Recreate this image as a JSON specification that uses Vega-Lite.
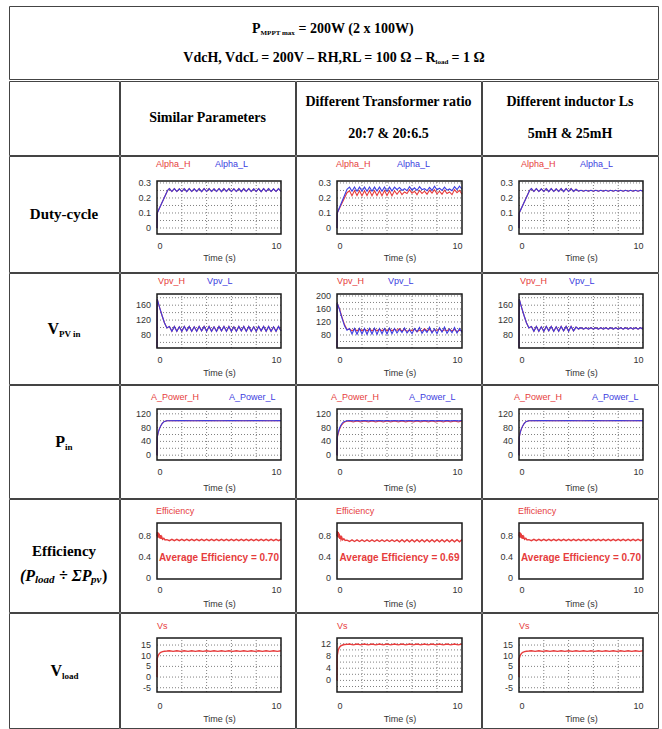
{
"$schema":"https://vega.github.io/schema/vega-lite/v6.json",
"background":"white",
"padding":{"left":8,"top":5,"right":0,"bottom":0},
"spacing":0,
"bounds":"full",
"resolve":{"scale":{"color":"independent"},"legend":{"color":"independent"}},
"config":{
 "view":{"stroke":"#444444","strokeWidth":1},
 "font":"Liberation Sans",
 "axis":{"domain":false,"ticks":false,"grid":false,"labelFont":"Liberation Sans","labelFontSize":9,"labelColor":"#333333","labelPadding":6,"titleFont":"Liberation Sans","titleFontSize":9,"titleFontWeight":"normal","titleColor":"#333333"},
 "axisX":{"labelFlush":true},
 "legend":{"orient":"none","direction":"horizontal","symbolOpacity":0,"symbolSize":0,"symbolStrokeWidth":0,"labelOffset":0,"labelFontSize":9,"labelFont":"Liberation Sans","padding":0},
 "rule":{"strokeDash":[1,2],"color":"#808080","strokeWidth":1},
 "line":{"strokeWidth":1.1},
 "text":{"font":"Liberation Serif","fontWeight":"bold","color":"black"}
},
"datasets":{
"r1c1":[{"t":0,"H":0,"L":0},{"t":0.02,"H":0.1,"L":0.1},{"t":0.85,"H":0.25,"L":0.25},{"t":1,"H":0.262,"L":0.262},{"t":1.2,"H":0.243,"L":0.243},{"t":1.4,"H":0.262,"L":0.262},{"t":1.6,"H":0.243,"L":0.243},{"t":1.8,"H":0.261,"L":0.261},{"t":2,"H":0.243,"L":0.243},{"t":2.2,"H":0.262,"L":0.262},{"t":2.4,"H":0.242,"L":0.242},{"t":2.6,"H":0.262,"L":0.262},{"t":2.8,"H":0.243,"L":0.243},{"t":3,"H":0.261,"L":0.261},{"t":3.2,"H":0.243,"L":0.243},{"t":3.4,"H":0.262,"L":0.262},{"t":3.6,"H":0.242,"L":0.242},{"t":3.8,"H":0.262,"L":0.262},{"t":4,"H":0.243,"L":0.243},{"t":4.2,"H":0.262,"L":0.262},{"t":4.4,"H":0.243,"L":0.243},{"t":4.6,"H":0.261,"L":0.261},{"t":4.8,"H":0.243,"L":0.243},{"t":5,"H":0.262,"L":0.262},{"t":5.2,"H":0.242,"L":0.242},{"t":5.4,"H":0.262,"L":0.262},{"t":5.6,"H":0.243,"L":0.243},{"t":5.8,"H":0.262,"L":0.262},{"t":6,"H":0.243,"L":0.243},{"t":6.2,"H":0.261,"L":0.261},{"t":6.4,"H":0.243,"L":0.243},{"t":6.6,"H":0.262,"L":0.262},{"t":6.8,"H":0.242,"L":0.242},{"t":7,"H":0.262,"L":0.262},{"t":7.2,"H":0.243,"L":0.243},{"t":7.4,"H":0.262,"L":0.262},{"t":7.6,"H":0.243,"L":0.243},{"t":7.8,"H":0.261,"L":0.261},{"t":8,"H":0.243,"L":0.243},{"t":8.2,"H":0.262,"L":0.262},{"t":8.4,"H":0.242,"L":0.242},{"t":8.6,"H":0.262,"L":0.262},{"t":8.8,"H":0.243,"L":0.243},{"t":9,"H":0.262,"L":0.262},{"t":9.2,"H":0.243,"L":0.243},{"t":9.4,"H":0.261,"L":0.261},{"t":9.6,"H":0.243,"L":0.243},{"t":9.8,"H":0.262,"L":0.262},{"t":10,"H":0.243,"L":0.243}],
"r1c2":[{"t":0,"H":0,"L":0},{"t":0.02,"H":0.1,"L":0.1},{"t":0.8,"H":0.235,"L":0.258},{"t":1,"H":0.248,"L":0.272},{"t":1.2,"H":0.215,"L":0.245},{"t":1.4,"H":0.249,"L":0.273},{"t":1.6,"H":0.216,"L":0.245},{"t":1.8,"H":0.248,"L":0.272},{"t":2,"H":0.215,"L":0.246},{"t":2.2,"H":0.248,"L":0.272},{"t":2.4,"H":0.216,"L":0.245},{"t":2.6,"H":0.249,"L":0.273},{"t":2.8,"H":0.215,"L":0.245},{"t":3,"H":0.248,"L":0.272},{"t":3.2,"H":0.216,"L":0.246},{"t":3.4,"H":0.248,"L":0.272},{"t":3.6,"H":0.215,"L":0.245},{"t":3.8,"H":0.249,"L":0.273},{"t":4,"H":0.216,"L":0.245},{"t":4.2,"H":0.248,"L":0.272},{"t":4.4,"H":0.215,"L":0.246},{"t":4.6,"H":0.248,"L":0.272},{"t":4.8,"H":0.225,"L":0.255},{"t":5,"H":0.248,"L":0.27},{"t":5.2,"H":0.222,"L":0.25},{"t":5.4,"H":0.24,"L":0.262},{"t":5.6,"H":0.23,"L":0.248},{"t":5.8,"H":0.255,"L":0.275},{"t":6,"H":0.232,"L":0.252},{"t":6.2,"H":0.245,"L":0.268},{"t":6.4,"H":0.222,"L":0.25},{"t":6.6,"H":0.25,"L":0.275},{"t":6.8,"H":0.23,"L":0.255},{"t":7,"H":0.245,"L":0.262},{"t":7.2,"H":0.225,"L":0.248},{"t":7.4,"H":0.252,"L":0.27},{"t":7.6,"H":0.232,"L":0.25},{"t":7.8,"H":0.255,"L":0.278},{"t":8,"H":0.228,"L":0.255},{"t":8.2,"H":0.245,"L":0.265},{"t":8.4,"H":0.225,"L":0.25},{"t":8.6,"H":0.252,"L":0.272},{"t":8.8,"H":0.23,"L":0.252},{"t":9,"H":0.24,"L":0.26},{"t":9.2,"H":0.222,"L":0.248},{"t":9.4,"H":0.255,"L":0.275},{"t":9.6,"H":0.235,"L":0.255},{"t":9.8,"H":0.25,"L":0.278},{"t":10,"H":0.225,"L":0.258}],
"r1c3":[{"t":0,"H":0,"L":0},{"t":0.02,"H":0.1,"L":0.1},{"t":0.85,"H":0.25,"L":0.25},{"t":1,"H":0.262,"L":0.262},{"t":1.2,"H":0.243,"L":0.243},{"t":1.4,"H":0.262,"L":0.262},{"t":1.6,"H":0.243,"L":0.243},{"t":1.8,"H":0.261,"L":0.261},{"t":2,"H":0.243,"L":0.243},{"t":2.2,"H":0.262,"L":0.262},{"t":2.4,"H":0.242,"L":0.242},{"t":2.6,"H":0.262,"L":0.262},{"t":2.8,"H":0.243,"L":0.243},{"t":3,"H":0.261,"L":0.261},{"t":3.2,"H":0.243,"L":0.243},{"t":3.4,"H":0.262,"L":0.262},{"t":3.6,"H":0.242,"L":0.242},{"t":3.8,"H":0.262,"L":0.262},{"t":4,"H":0.243,"L":0.243},{"t":4.2,"H":0.262,"L":0.262},{"t":4.4,"H":0.243,"L":0.243},{"t":4.6,"H":0.258,"L":0.258},{"t":4.8,"H":0.245,"L":0.245},{"t":5,"H":0.251,"L":0.251},{"t":5.2,"H":0.245,"L":0.245},{"t":5.4,"H":0.251,"L":0.251},{"t":5.6,"H":0.245,"L":0.245},{"t":5.8,"H":0.251,"L":0.251},{"t":6,"H":0.245,"L":0.245},{"t":6.2,"H":0.251,"L":0.251},{"t":6.4,"H":0.245,"L":0.245},{"t":6.6,"H":0.251,"L":0.251},{"t":6.8,"H":0.245,"L":0.245},{"t":7,"H":0.251,"L":0.251},{"t":7.2,"H":0.245,"L":0.245},{"t":7.4,"H":0.251,"L":0.251},{"t":7.6,"H":0.245,"L":0.245},{"t":7.8,"H":0.251,"L":0.251},{"t":8,"H":0.245,"L":0.245},{"t":8.2,"H":0.251,"L":0.251},{"t":8.4,"H":0.245,"L":0.245},{"t":8.6,"H":0.251,"L":0.251},{"t":8.8,"H":0.245,"L":0.245},{"t":9,"H":0.251,"L":0.251},{"t":9.2,"H":0.245,"L":0.245},{"t":9.4,"H":0.251,"L":0.251},{"t":9.6,"H":0.245,"L":0.245},{"t":9.8,"H":0.251,"L":0.251},{"t":10,"H":0.245,"L":0.245}],
"r2c1":[{"t":0,"H":46,"L":46},{"t":0.02,"H":176,"L":176},{"t":0.2,"H":155,"L":155},{"t":0.4,"H":133,"L":133},{"t":0.6,"H":113,"L":113},{"t":0.8,"H":99,"L":99},{"t":1,"H":103,"L":103},{"t":1.2,"H":90,"L":90},{"t":1.4,"H":103,"L":103},{"t":1.6,"H":90,"L":90},{"t":1.8,"H":102,"L":102},{"t":2,"H":90,"L":90},{"t":2.2,"H":103,"L":103},{"t":2.4,"H":91,"L":91},{"t":2.6,"H":103,"L":103},{"t":2.8,"H":90,"L":90},{"t":3,"H":102,"L":102},{"t":3.2,"H":90,"L":90},{"t":3.4,"H":103,"L":103},{"t":3.6,"H":91,"L":91},{"t":3.8,"H":103,"L":103},{"t":4,"H":90,"L":90},{"t":4.2,"H":103,"L":103},{"t":4.4,"H":90,"L":90},{"t":4.6,"H":102,"L":102},{"t":4.8,"H":90,"L":90},{"t":5,"H":103,"L":103},{"t":5.2,"H":91,"L":91},{"t":5.4,"H":103,"L":103},{"t":5.6,"H":90,"L":90},{"t":5.8,"H":103,"L":103},{"t":6,"H":90,"L":90},{"t":6.2,"H":102,"L":102},{"t":6.4,"H":90,"L":90},{"t":6.6,"H":103,"L":103},{"t":6.8,"H":91,"L":91},{"t":7,"H":103,"L":103},{"t":7.2,"H":90,"L":90},{"t":7.4,"H":103,"L":103},{"t":7.6,"H":90,"L":90},{"t":7.8,"H":102,"L":102},{"t":8,"H":90,"L":90},{"t":8.2,"H":103,"L":103},{"t":8.4,"H":91,"L":91},{"t":8.6,"H":103,"L":103},{"t":8.8,"H":90,"L":90},{"t":9,"H":103,"L":103},{"t":9.2,"H":90,"L":90},{"t":9.4,"H":102,"L":102},{"t":9.6,"H":90,"L":90},{"t":9.8,"H":103,"L":103},{"t":10,"H":91,"L":91}],
"r2c2":[{"t":0,"H":41,"L":41},{"t":0.02,"H":178,"L":178},{"t":0.2,"H":160,"L":158},{"t":0.4,"H":135,"L":132},{"t":0.6,"H":112,"L":108},{"t":0.8,"H":97,"L":95},{"t":1,"H":98,"L":100},{"t":1.2,"H":93,"L":83},{"t":1.4,"H":98,"L":100},{"t":1.6,"H":93,"L":82},{"t":1.8,"H":98,"L":100},{"t":2,"H":93,"L":83},{"t":2.2,"H":98,"L":100},{"t":2.4,"H":93,"L":82},{"t":2.6,"H":98,"L":100},{"t":2.8,"H":93,"L":83},{"t":3,"H":98,"L":101},{"t":3.2,"H":93,"L":82},{"t":3.4,"H":98,"L":100},{"t":3.6,"H":93,"L":84},{"t":3.8,"H":98,"L":100},{"t":4,"H":93,"L":83},{"t":4.2,"H":98,"L":101},{"t":4.4,"H":93,"L":84},{"t":4.6,"H":98,"L":100},{"t":4.8,"H":94,"L":86},{"t":5,"H":99,"L":98},{"t":5.2,"H":92,"L":88},{"t":5.4,"H":97,"L":102},{"t":5.6,"H":91,"L":86},{"t":5.8,"H":96,"L":96},{"t":6,"H":93,"L":84},{"t":6.2,"H":98,"L":100},{"t":6.4,"H":90,"L":90},{"t":6.6,"H":95,"L":103},{"t":6.8,"H":92,"L":85},{"t":7,"H":99,"L":97},{"t":7.2,"H":93,"L":88},{"t":7.4,"H":97,"L":104},{"t":7.6,"H":90,"L":86},{"t":7.8,"H":96,"L":99},{"t":8,"H":94,"L":84},{"t":8.2,"H":99,"L":102},{"t":8.4,"H":91,"L":89},{"t":8.6,"H":96,"L":104},{"t":8.8,"H":93,"L":85},{"t":9,"H":98,"L":98},{"t":9.2,"H":92,"L":87},{"t":9.4,"H":97,"L":103},{"t":9.6,"H":90,"L":86},{"t":9.8,"H":95,"L":100},{"t":10,"H":93,"L":88}],
"r2c3":[{"t":0,"H":46,"L":46},{"t":0.02,"H":176,"L":176},{"t":0.2,"H":155,"L":155},{"t":0.4,"H":133,"L":133},{"t":0.6,"H":113,"L":113},{"t":0.8,"H":99,"L":99},{"t":1,"H":103,"L":103},{"t":1.2,"H":90,"L":90},{"t":1.4,"H":103,"L":103},{"t":1.6,"H":90,"L":90},{"t":1.8,"H":102,"L":102},{"t":2,"H":90,"L":90},{"t":2.2,"H":103,"L":103},{"t":2.4,"H":91,"L":91},{"t":2.6,"H":103,"L":103},{"t":2.8,"H":90,"L":90},{"t":3,"H":102,"L":102},{"t":3.2,"H":90,"L":90},{"t":3.4,"H":103,"L":103},{"t":3.6,"H":91,"L":91},{"t":3.8,"H":103,"L":103},{"t":4,"H":90,"L":90},{"t":4.2,"H":103,"L":103},{"t":4.4,"H":91,"L":91},{"t":4.6,"H":101,"L":101},{"t":4.8,"H":96,"L":96},{"t":5,"H":99.5,"L":99.5},{"t":5.2,"H":95.5,"L":95.5},{"t":5.4,"H":99.5,"L":99.5},{"t":5.6,"H":95.5,"L":95.5},{"t":5.8,"H":99.5,"L":99.5},{"t":6,"H":95.5,"L":95.5},{"t":6.2,"H":99.5,"L":99.5},{"t":6.4,"H":95.5,"L":95.5},{"t":6.6,"H":99.5,"L":99.5},{"t":6.8,"H":95.5,"L":95.5},{"t":7,"H":99.5,"L":99.5},{"t":7.2,"H":95.5,"L":95.5},{"t":7.4,"H":99.5,"L":99.5},{"t":7.6,"H":95.5,"L":95.5},{"t":7.8,"H":99.5,"L":99.5},{"t":8,"H":95.5,"L":95.5},{"t":8.2,"H":99.5,"L":99.5},{"t":8.4,"H":95.5,"L":95.5},{"t":8.6,"H":99.5,"L":99.5},{"t":8.8,"H":95.5,"L":95.5},{"t":9,"H":99.5,"L":99.5},{"t":9.2,"H":95.5,"L":95.5},{"t":9.4,"H":99.5,"L":99.5},{"t":9.6,"H":95.5,"L":95.5},{"t":9.8,"H":99.5,"L":99.5},{"t":10,"H":95.5,"L":95.5}],
"r3c1":[{"t":0,"H":0,"L":0},{"t":0.02,"H":52,"L":52},{"t":0.1,"H":66,"L":66},{"t":0.2,"H":77,"L":77},{"t":0.3,"H":85,"L":85},{"t":0.4,"H":91,"L":91},{"t":0.5,"H":95,"L":95},{"t":0.6,"H":98,"L":98},{"t":0.8,"H":100,"L":100},{"t":2,"H":100.4,"L":100.4},{"t":3,"H":99.8,"L":99.8},{"t":4,"H":100.3,"L":100.3},{"t":5,"H":99.9,"L":99.9},{"t":6,"H":100.3,"L":100.3},{"t":7,"H":99.8,"L":99.8},{"t":8,"H":100.3,"L":100.3},{"t":9,"H":99.9,"L":99.9},{"t":10,"H":100.2,"L":100.2}],
"r3c2":[{"t":0,"H":0,"L":0},{"t":0.02,"H":50,"L":53},{"t":0.1,"H":63,"L":67},{"t":0.2,"H":75,"L":78},{"t":0.3,"H":83,"L":86},{"t":0.4,"H":89,"L":92},{"t":0.5,"H":93,"L":96},{"t":0.6,"H":96,"L":98},{"t":0.8,"H":98.5,"L":100},{"t":1,"H":99.5,"L":100.5},{"t":1.3,"H":96.5,"L":99.5},{"t":1.6,"H":99.5,"L":100.5},{"t":1.9,"H":96.5,"L":99.5},{"t":2.2,"H":99.5,"L":100.5},{"t":2.5,"H":96.5,"L":99.5},{"t":2.8,"H":99.5,"L":100.5},{"t":3.1,"H":96.5,"L":99.5},{"t":3.4,"H":99.5,"L":100.5},{"t":3.7,"H":96.5,"L":99.5},{"t":4,"H":99.5,"L":100.5},{"t":4.3,"H":96.5,"L":99.5},{"t":4.6,"H":99.5,"L":100.5},{"t":4.9,"H":96.5,"L":99.5},{"t":5.2,"H":99.5,"L":100.5},{"t":5.5,"H":96.5,"L":99.5},{"t":5.8,"H":99.5,"L":100.5},{"t":6.1,"H":96.5,"L":99.5},{"t":6.4,"H":99.5,"L":100.5},{"t":6.7,"H":96.5,"L":99.5},{"t":7,"H":99.5,"L":100.5},{"t":7.3,"H":96.5,"L":99.5},{"t":7.6,"H":99.5,"L":100.5},{"t":7.9,"H":96.5,"L":99.5},{"t":8.2,"H":99.5,"L":100.5},{"t":8.5,"H":96.5,"L":99.5},{"t":8.8,"H":99.5,"L":100.5},{"t":9.1,"H":96.5,"L":99.5},{"t":9.4,"H":99.5,"L":100.5},{"t":9.7,"H":96.5,"L":99.5},{"t":10,"H":99.5,"L":100.5}],
"r4c1":[{"t":0,"v":0.8},{"t":0.03,"v":0.88},{"t":0.06,"v":0.77},{"t":0.1,"v":0.87},{"t":0.14,"v":0.77},{"t":0.18,"v":0.85},{"t":0.22,"v":0.76},{"t":0.27,"v":0.82},{"t":0.32,"v":0.75},{"t":0.38,"v":0.79},{"t":0.45,"v":0.74},{"t":0.55,"v":0.76},{"t":0.65,"v":0.73},{"t":0.8,"v":0.735},{"t":1,"v":0.715},{"t":1.2,"v":0.74},{"t":1.4,"v":0.715},{"t":1.6,"v":0.74},{"t":1.8,"v":0.715},{"t":2,"v":0.74},{"t":2.2,"v":0.715},{"t":2.4,"v":0.74},{"t":2.6,"v":0.715},{"t":2.8,"v":0.74},{"t":3,"v":0.715},{"t":3.2,"v":0.74},{"t":3.4,"v":0.715},{"t":3.6,"v":0.74},{"t":3.8,"v":0.715},{"t":4,"v":0.74},{"t":4.2,"v":0.715},{"t":4.4,"v":0.74},{"t":4.6,"v":0.715},{"t":4.8,"v":0.74},{"t":5,"v":0.715},{"t":5.2,"v":0.74},{"t":5.4,"v":0.715},{"t":5.6,"v":0.74},{"t":5.8,"v":0.715},{"t":6,"v":0.74},{"t":6.2,"v":0.715},{"t":6.4,"v":0.74},{"t":6.6,"v":0.715},{"t":6.8,"v":0.74},{"t":7,"v":0.715},{"t":7.2,"v":0.74},{"t":7.4,"v":0.715},{"t":7.6,"v":0.74},{"t":7.8,"v":0.715},{"t":8,"v":0.74},{"t":8.2,"v":0.715},{"t":8.4,"v":0.74},{"t":8.6,"v":0.715},{"t":8.8,"v":0.74},{"t":9,"v":0.715},{"t":9.2,"v":0.74},{"t":9.4,"v":0.715},{"t":9.6,"v":0.74},{"t":9.8,"v":0.715},{"t":10,"v":0.74}],
"r4c2":[{"t":0,"v":0.8},{"t":0.03,"v":0.9},{"t":0.06,"v":0.78},{"t":0.1,"v":0.88},{"t":0.14,"v":0.77},{"t":0.18,"v":0.85},{"t":0.22,"v":0.75},{"t":0.27,"v":0.81},{"t":0.32,"v":0.74},{"t":0.38,"v":0.78},{"t":0.45,"v":0.73},{"t":0.55,"v":0.75},{"t":0.65,"v":0.72},{"t":0.8,"v":0.725},{"t":1,"v":0.7},{"t":1.2,"v":0.73},{"t":1.4,"v":0.7},{"t":1.6,"v":0.73},{"t":1.8,"v":0.7},{"t":2,"v":0.73},{"t":2.2,"v":0.7},{"t":2.4,"v":0.73},{"t":2.6,"v":0.7},{"t":2.8,"v":0.73},{"t":3,"v":0.7},{"t":3.2,"v":0.73},{"t":3.4,"v":0.7},{"t":3.6,"v":0.73},{"t":3.8,"v":0.7},{"t":4,"v":0.73},{"t":4.2,"v":0.7},{"t":4.4,"v":0.73},{"t":4.6,"v":0.7},{"t":4.8,"v":0.73},{"t":5,"v":0.695},{"t":5.2,"v":0.735},{"t":5.4,"v":0.695},{"t":5.6,"v":0.735},{"t":5.8,"v":0.695},{"t":6,"v":0.735},{"t":6.2,"v":0.695},{"t":6.4,"v":0.735},{"t":6.6,"v":0.695},{"t":6.8,"v":0.735},{"t":7,"v":0.695},{"t":7.2,"v":0.735},{"t":7.4,"v":0.695},{"t":7.6,"v":0.735},{"t":7.8,"v":0.695},{"t":8,"v":0.735},{"t":8.2,"v":0.695},{"t":8.4,"v":0.735},{"t":8.6,"v":0.695},{"t":8.8,"v":0.735},{"t":9,"v":0.695},{"t":9.2,"v":0.735},{"t":9.4,"v":0.695},{"t":9.6,"v":0.735},{"t":9.8,"v":0.695},{"t":10,"v":0.735}],
"r5c1":[{"t":0,"v":0},{"t":0.01,"v":8.5},{"t":0.1,"v":10.2},{"t":0.2,"v":11.1},{"t":0.3,"v":11.6},{"t":0.45,"v":11.9},{"t":0.6,"v":12.1},{"t":0.8,"v":12.2},{"t":1,"v":12.35},{"t":1.3,"v":12.05},{"t":1.6,"v":12.35},{"t":1.9,"v":12.05},{"t":2.2,"v":12.35},{"t":2.5,"v":12.05},{"t":2.8,"v":12.35},{"t":3.1,"v":12.05},{"t":3.4,"v":12.35},{"t":3.7,"v":12.05},{"t":4,"v":12.35},{"t":4.3,"v":12.05},{"t":4.6,"v":12.35},{"t":4.9,"v":12.05},{"t":5.2,"v":12.35},{"t":5.5,"v":12.05},{"t":5.8,"v":12.35},{"t":6.1,"v":12.05},{"t":6.4,"v":12.35},{"t":6.7,"v":12.05},{"t":7,"v":12.35},{"t":7.3,"v":12.05},{"t":7.6,"v":12.35},{"t":7.9,"v":12.05},{"t":8.2,"v":12.35},{"t":8.5,"v":12.05},{"t":8.8,"v":12.35},{"t":9.1,"v":12.05},{"t":9.4,"v":12.35},{"t":9.7,"v":12.05},{"t":10,"v":12.35}],
"r5c2":[{"t":0,"v":0},{"t":0.01,"v":8},{"t":0.1,"v":10},{"t":0.2,"v":10.9},{"t":0.3,"v":11.3},{"t":0.45,"v":11.6},{"t":0.6,"v":11.75},{"t":0.8,"v":11.8},{"t":1,"v":11.95},{"t":1.3,"v":11.65},{"t":1.6,"v":11.95},{"t":1.9,"v":11.65},{"t":2.2,"v":11.95},{"t":2.5,"v":11.65},{"t":2.8,"v":11.95},{"t":3.1,"v":11.65},{"t":3.4,"v":11.95},{"t":3.7,"v":11.65},{"t":4,"v":11.95},{"t":4.3,"v":11.65},{"t":4.6,"v":11.95},{"t":4.9,"v":11.65},{"t":5.2,"v":11.95},{"t":5.5,"v":11.65},{"t":5.8,"v":11.95},{"t":6.1,"v":11.65},{"t":6.4,"v":11.95},{"t":6.7,"v":11.65},{"t":7,"v":11.95},{"t":7.3,"v":11.65},{"t":7.6,"v":11.95},{"t":7.9,"v":11.65},{"t":8.2,"v":11.95},{"t":8.5,"v":11.65},{"t":8.8,"v":11.95},{"t":9.1,"v":11.65},{"t":9.4,"v":11.95},{"t":9.7,"v":11.65},{"t":10,"v":11.95}]
},
"vconcat":[
{"width":649,"height":73,"data":{"values":[{}]},"encoding":{"x":{"datum":0.5,"type":"quantitative","scale":{"domain":[0,1]},"axis":null},"y":{"datum":0.5,"type":"quantitative","scale":{"domain":[0,1]},"axis":null}},"layer":[
 {"mark":{"type":"text","fontSize":14,"align":"right","dx":-73,"dy":-14},"encoding":{"text":{"value":"P"}}},
 {"mark":{"type":"text","fontSize":7,"align":"left","dx":-73,"dy":-10},"encoding":{"text":{"value":"MPPT max"}}},
 {"mark":{"type":"text","fontSize":14,"align":"left","dx":-35,"dy":-14},"encoding":{"text":{"value":"= 200W (2 x 100W)"}}},
 {"mark":{"type":"text","fontSize":14,"align":"right","dx":102,"dy":15},"encoding":{"text":{"value":"VdcH, VdcL = 200V – RH,RL = 100 Ω – R"}}},
 {"mark":{"type":"text","fontSize":7,"align":"left","dx":102,"dy":19},"encoding":{"text":{"value":"load"}}},
 {"mark":{"type":"text","fontSize":14,"align":"left","dx":118,"dy":15},"encoding":{"text":{"value":"= 1 Ω"}}}
]},
{"concat":[
 {"width":110,"height":74,"data":{"values":[{}]},"mark":{"type":"text"},"encoding":{"x":{"datum":0.5,"type":"quantitative","scale":{"domain":[0,1]},"axis":null},"y":{"datum":0.5,"type":"quantitative","scale":{"domain":[0,1]},"axis":null},"text":{"value":""}}},
 {"width":175,"height":74,"data":{"values":[{}]},"mark":{"type":"text","fontSize":14},"encoding":{"x":{"datum":0.5,"type":"quantitative","scale":{"domain":[0,1]},"axis":null},"y":{"datum":0.5,"type":"quantitative","scale":{"domain":[0,1]},"axis":null},"text":{"value":"Similar Parameters"}}},
 {"width":185,"height":74,"data":{"values":[{}]},"mark":{"type":"text","fontSize":14,"lineHeight":32,"dy":-16},"encoding":{"x":{"datum":0.5,"type":"quantitative","scale":{"domain":[0,1]},"axis":null},"y":{"datum":0.5,"type":"quantitative","scale":{"domain":[0,1]},"axis":null},"text":{"value":["Different Transformer ratio","20:7 & 20:6.5"]}}},
 {"width":176,"height":74,"data":{"values":[{}]},"mark":{"type":"text","fontSize":14,"lineHeight":32,"dy":-16},"encoding":{"x":{"datum":0.5,"type":"quantitative","scale":{"domain":[0,1]},"axis":null},"y":{"datum":0.5,"type":"quantitative","scale":{"domain":[0,1]},"axis":null},"text":{"value":["Different inductor Ls","5mH & 25mH"]}}},

 {"width":110,"height":116,"data":{"values":[{}]},"mark":{"type":"text","fontSize":15},"encoding":{"x":{"datum":0.5,"type":"quantitative","scale":{"domain":[0,1]},"axis":null},"y":{"datum":0.5,"type":"quantitative","scale":{"domain":[0,1]},"axis":null},"text":{"value":"Duty-cycle"}}},
 {"width":175,"height":116,"layer":[
  {"data":{"values":[{"g":0},{"g":0.05},{"g":0.1},{"g":0.15},{"g":0.2},{"g":0.25},{"g":0.3}]},"mark":"rule","encoding":{"y":{"field":"g","type":"quantitative","scale":{"domain":[-0.04,0.313],"range":[78,25]},"axis":null},"x":{"datum":0,"type":"quantitative","scale":{"domain":[0,10],"range":[37,161]}},"x2":{"datum":10}}},
  {"data":{"values":[{"g":2},{"g":4},{"g":6},{"g":8}]},"mark":"rule","encoding":{"x":{"field":"g","type":"quantitative","scale":{"domain":[0,10],"range":[37,161]}},"y":{"datum":-0.04,"type":"quantitative","scale":{"domain":[-0.04,0.313],"range":[78,25]},"axis":null},"y2":{"datum":0.313}}},
  {"data":{"values":[{"g":0,"lab":"0"},{"g":0.1,"lab":"0.1"},{"g":0.2,"lab":"0.2"},{"g":0.3,"lab":"0.3"}]},"mark":{"type":"text","align":"right","dx":-6,"font":"Liberation Sans","fontWeight":"normal","fontSize":9,"color":"#333333"},"encoding":{"x":{"datum":0,"type":"quantitative","scale":{"domain":[0,10],"range":[37,161]}},"y":{"field":"g","type":"quantitative","scale":{"domain":[-0.04,0.313],"range":[78,25]},"axis":null},"text":{"field":"lab"}}},
  {"data":{"name":"r1c1"},"transform":[{"fold":["H","L"],"as":["s","v"]}],"mark":"line","encoding":{"x":{"field":"t","type":"quantitative","scale":{"domain":[0,10],"range":[37,161]},"axis":{"values":[0,10],"title":"Time (s)","offset":-38,"labelPadding":7.5,"titlePadding":3}},"y":{"field":"v","type":"quantitative","scale":{"domain":[-0.04,0.313],"range":[78,25]},"axis":null},"color":{"field":"s","type":"nominal","scale":{"domain":["H","L"],"range":["#e63c3c","#3c3ce0"]},"legend":{"title":null,"legendX":27,"legendY":3.5,"columnPadding":15,"labelExpr":"'Alpha_' + datum.label","labelColor":{"expr":"datum.value === 'L' ? '#3c3ce0' : '#e63c3c'"}}}}},
  {"data":{"values":[{}]},"mark":{"type":"rect","filled":false,"stroke":"#1a1a1a","strokeWidth":1.5},"encoding":{"x":{"datum":0,"type":"quantitative","scale":{"domain":[0,10],"range":[37,161]}},"x2":{"datum":10},"y":{"datum":-0.04,"type":"quantitative","scale":{"domain":[-0.04,0.313],"range":[78,25]},"axis":null},"y2":{"datum":0.313}}}
 ]},
 {"width":185,"height":116,"layer":[
  {"data":{"values":[{"g":0},{"g":0.05},{"g":0.1},{"g":0.15},{"g":0.2},{"g":0.25},{"g":0.3}]},"mark":"rule","encoding":{"y":{"field":"g","type":"quantitative","scale":{"domain":[-0.04,0.313],"range":[78,25]},"axis":null},"x":{"datum":0,"type":"quantitative","scale":{"domain":[0,10],"range":[41,166]}},"x2":{"datum":10}}},
  {"data":{"values":[{"g":2},{"g":4},{"g":6},{"g":8}]},"mark":"rule","encoding":{"x":{"field":"g","type":"quantitative","scale":{"domain":[0,10],"range":[41,166]}},"y":{"datum":-0.04,"type":"quantitative","scale":{"domain":[-0.04,0.313],"range":[78,25]},"axis":null},"y2":{"datum":0.313}}},
  {"data":{"values":[{"g":0,"lab":"0"},{"g":0.1,"lab":"0.1"},{"g":0.2,"lab":"0.2"},{"g":0.3,"lab":"0.3"}]},"mark":{"type":"text","align":"right","dx":-6,"font":"Liberation Sans","fontWeight":"normal","fontSize":9,"color":"#333333"},"encoding":{"x":{"datum":0,"type":"quantitative","scale":{"domain":[0,10],"range":[41,166]}},"y":{"field":"g","type":"quantitative","scale":{"domain":[-0.04,0.313],"range":[78,25]},"axis":null},"text":{"field":"lab"}}},
  {"data":{"name":"r1c2"},"transform":[{"fold":["H","L"],"as":["s","v"]}],"mark":"line","encoding":{"x":{"field":"t","type":"quantitative","scale":{"domain":[0,10],"range":[41,166]},"axis":{"values":[0,10],"title":"Time (s)","offset":-38,"labelPadding":7.5,"titlePadding":3}},"y":{"field":"v","type":"quantitative","scale":{"domain":[-0.04,0.313],"range":[78,25]},"axis":null},"color":{"field":"s","type":"nominal","scale":{"domain":["H","L"],"range":["#e63c3c","#3c3ce0"]},"legend":{"title":null,"legendX":31,"legendY":3.5,"columnPadding":17,"labelExpr":"'Alpha_' + datum.label","labelColor":{"expr":"datum.value === 'L' ? '#3c3ce0' : '#e63c3c'"}}}}},
  {"data":{"values":[{}]},"mark":{"type":"rect","filled":false,"stroke":"#1a1a1a","strokeWidth":1.5},"encoding":{"x":{"datum":0,"type":"quantitative","scale":{"domain":[0,10],"range":[41,166]}},"x2":{"datum":10},"y":{"datum":-0.04,"type":"quantitative","scale":{"domain":[-0.04,0.313],"range":[78,25]},"axis":null},"y2":{"datum":0.313}}}
 ]},
 {"width":176,"height":116,"layer":[
  {"data":{"values":[{"g":0},{"g":0.05},{"g":0.1},{"g":0.15},{"g":0.2},{"g":0.25},{"g":0.3}]},"mark":"rule","encoding":{"y":{"field":"g","type":"quantitative","scale":{"domain":[-0.04,0.313],"range":[78,25]},"axis":null},"x":{"datum":0,"type":"quantitative","scale":{"domain":[0,10],"range":[37,161]}},"x2":{"datum":10}}},
  {"data":{"values":[{"g":2},{"g":4},{"g":6},{"g":8}]},"mark":"rule","encoding":{"x":{"field":"g","type":"quantitative","scale":{"domain":[0,10],"range":[37,161]}},"y":{"datum":-0.04,"type":"quantitative","scale":{"domain":[-0.04,0.313],"range":[78,25]},"axis":null},"y2":{"datum":0.313}}},
  {"data":{"values":[{"g":0,"lab":"0"},{"g":0.1,"lab":"0.1"},{"g":0.2,"lab":"0.2"},{"g":0.3,"lab":"0.3"}]},"mark":{"type":"text","align":"right","dx":-6,"font":"Liberation Sans","fontWeight":"normal","fontSize":9,"color":"#333333"},"encoding":{"x":{"datum":0,"type":"quantitative","scale":{"domain":[0,10],"range":[37,161]}},"y":{"field":"g","type":"quantitative","scale":{"domain":[-0.04,0.313],"range":[78,25]},"axis":null},"text":{"field":"lab"}}},
  {"data":{"name":"r1c3"},"transform":[{"fold":["H","L"],"as":["s","v"]}],"mark":"line","encoding":{"x":{"field":"t","type":"quantitative","scale":{"domain":[0,10],"range":[37,161]},"axis":{"values":[0,10],"title":"Time (s)","offset":-38,"labelPadding":7.5,"titlePadding":3}},"y":{"field":"v","type":"quantitative","scale":{"domain":[-0.04,0.313],"range":[78,25]},"axis":null},"color":{"field":"s","type":"nominal","scale":{"domain":["H","L"],"range":["#e63c3c","#3c3ce0"]},"legend":{"title":null,"legendX":30,"legendY":3.5,"columnPadding":15,"labelExpr":"'Alpha_' + datum.label","labelColor":{"expr":"datum.value === 'L' ? '#3c3ce0' : '#e63c3c'"}}}}},
  {"data":{"values":[{}]},"mark":{"type":"rect","filled":false,"stroke":"#1a1a1a","strokeWidth":1.5},"encoding":{"x":{"datum":0,"type":"quantitative","scale":{"domain":[0,10],"range":[37,161]}},"x2":{"datum":10},"y":{"datum":-0.04,"type":"quantitative","scale":{"domain":[-0.04,0.313],"range":[78,25]},"axis":null},"y2":{"datum":0.313}}}
 ]},

 {"width":110,"height":111,"data":{"values":[{}]},"encoding":{"x":{"datum":0.5,"type":"quantitative","scale":{"domain":[0,1]},"axis":null},"y":{"datum":0.5,"type":"quantitative","scale":{"domain":[0,1]},"axis":null}},"layer":[
  {"mark":{"type":"text","fontSize":16,"align":"right","dx":-5},"encoding":{"text":{"value":"V"}}},
  {"mark":{"type":"text","fontSize":9,"align":"left","dx":-5,"dy":5},"encoding":{"text":{"value":"PV in"}}}
 ]},
 {"width":175,"height":111,"layer":[
  {"data":{"values":[{"g":60},{"g":80},{"g":100},{"g":120},{"g":140},{"g":160},{"g":180}]},"mark":"rule","encoding":{"y":{"field":"g","type":"quantitative","scale":{"domain":[45,190],"range":[75,21]},"axis":null},"x":{"datum":0,"type":"quantitative","scale":{"domain":[0,10],"range":[37,161]}},"x2":{"datum":10}}},
  {"data":{"values":[{"g":2},{"g":4},{"g":6},{"g":8}]},"mark":"rule","encoding":{"x":{"field":"g","type":"quantitative","scale":{"domain":[0,10],"range":[37,161]}},"y":{"datum":45,"type":"quantitative","scale":{"domain":[45,190],"range":[75,21]},"axis":null},"y2":{"datum":190}}},
  {"data":{"values":[{"g":80,"lab":"80"},{"g":120,"lab":"120"},{"g":160,"lab":"160"}]},"mark":{"type":"text","align":"right","dx":-6,"font":"Liberation Sans","fontWeight":"normal","fontSize":9,"color":"#333333"},"encoding":{"x":{"datum":0,"type":"quantitative","scale":{"domain":[0,10],"range":[37,161]}},"y":{"field":"g","type":"quantitative","scale":{"domain":[45,190],"range":[75,21]},"axis":null},"text":{"field":"lab"}}},
  {"data":{"name":"r2c1"},"transform":[{"fold":["H","L"],"as":["s","v"]}],"mark":"line","encoding":{"x":{"field":"t","type":"quantitative","scale":{"domain":[0,10],"range":[37,161]},"axis":{"values":[0,10],"title":"Time (s)","offset":-36,"labelPadding":7.5,"titlePadding":4}},"y":{"field":"v","type":"quantitative","scale":{"domain":[45,190],"range":[75,21]},"axis":null},"color":{"field":"s","type":"nominal","scale":{"domain":["H","L"],"range":["#e63c3c","#3c3ce0"]},"legend":{"title":null,"legendX":29,"legendY":3.5,"columnPadding":12,"labelExpr":"'Vpv_' + datum.label","labelColor":{"expr":"datum.value === 'L' ? '#3c3ce0' : '#e63c3c'"}}}}},
  {"data":{"values":[{}]},"mark":{"type":"rect","filled":false,"stroke":"#1a1a1a","strokeWidth":1.5},"encoding":{"x":{"datum":0,"type":"quantitative","scale":{"domain":[0,10],"range":[37,161]}},"x2":{"datum":10},"y":{"datum":45,"type":"quantitative","scale":{"domain":[45,190],"range":[75,21]},"axis":null},"y2":{"datum":190}}}
 ]},
 {"width":185,"height":111,"layer":[
  {"data":{"values":[{"g":60},{"g":80},{"g":100},{"g":120},{"g":140},{"g":160},{"g":180},{"g":200}]},"mark":"rule","encoding":{"y":{"field":"g","type":"quantitative","scale":{"domain":[40,206],"range":[75,21]},"axis":null},"x":{"datum":0,"type":"quantitative","scale":{"domain":[0,10],"range":[41,166]}},"x2":{"datum":10}}},
  {"data":{"values":[{"g":2},{"g":4},{"g":6},{"g":8}]},"mark":"rule","encoding":{"x":{"field":"g","type":"quantitative","scale":{"domain":[0,10],"range":[41,166]}},"y":{"datum":40,"type":"quantitative","scale":{"domain":[40,206],"range":[75,21]},"axis":null},"y2":{"datum":206}}},
  {"data":{"values":[{"g":80,"lab":"80"},{"g":120,"lab":"120"},{"g":160,"lab":"160"},{"g":200,"lab":"200"}]},"mark":{"type":"text","align":"right","dx":-6,"font":"Liberation Sans","fontWeight":"normal","fontSize":9,"color":"#333333"},"encoding":{"x":{"datum":0,"type":"quantitative","scale":{"domain":[0,10],"range":[41,166]}},"y":{"field":"g","type":"quantitative","scale":{"domain":[40,206],"range":[75,21]},"axis":null},"text":{"field":"lab"}}},
  {"data":{"name":"r2c2"},"transform":[{"fold":["H","L"],"as":["s","v"]}],"mark":"line","encoding":{"x":{"field":"t","type":"quantitative","scale":{"domain":[0,10],"range":[41,166]},"axis":{"values":[0,10],"title":"Time (s)","offset":-36,"labelPadding":7.5,"titlePadding":4}},"y":{"field":"v","type":"quantitative","scale":{"domain":[40,206],"range":[75,21]},"axis":null},"color":{"field":"s","type":"nominal","scale":{"domain":["H","L"],"range":["#e63c3c","#3c3ce0"]},"legend":{"title":null,"legendX":32,"legendY":3.5,"columnPadding":14,"labelExpr":"'Vpv_' + datum.label","labelColor":{"expr":"datum.value === 'L' ? '#3c3ce0' : '#e63c3c'"}}}}},
  {"data":{"values":[{}]},"mark":{"type":"rect","filled":false,"stroke":"#1a1a1a","strokeWidth":1.5},"encoding":{"x":{"datum":0,"type":"quantitative","scale":{"domain":[0,10],"range":[41,166]}},"x2":{"datum":10},"y":{"datum":40,"type":"quantitative","scale":{"domain":[40,206],"range":[75,21]},"axis":null},"y2":{"datum":206}}}
 ]},
 {"width":176,"height":111,"layer":[
  {"data":{"values":[{"g":60},{"g":80},{"g":100},{"g":120},{"g":140},{"g":160},{"g":180}]},"mark":"rule","encoding":{"y":{"field":"g","type":"quantitative","scale":{"domain":[45,190],"range":[75,21]},"axis":null},"x":{"datum":0,"type":"quantitative","scale":{"domain":[0,10],"range":[37,161]}},"x2":{"datum":10}}},
  {"data":{"values":[{"g":2},{"g":4},{"g":6},{"g":8}]},"mark":"rule","encoding":{"x":{"field":"g","type":"quantitative","scale":{"domain":[0,10],"range":[37,161]}},"y":{"datum":45,"type":"quantitative","scale":{"domain":[45,190],"range":[75,21]},"axis":null},"y2":{"datum":190}}},
  {"data":{"values":[{"g":80,"lab":"80"},{"g":120,"lab":"120"},{"g":160,"lab":"160"}]},"mark":{"type":"text","align":"right","dx":-6,"font":"Liberation Sans","fontWeight":"normal","fontSize":9,"color":"#333333"},"encoding":{"x":{"datum":0,"type":"quantitative","scale":{"domain":[0,10],"range":[37,161]}},"y":{"field":"g","type":"quantitative","scale":{"domain":[45,190],"range":[75,21]},"axis":null},"text":{"field":"lab"}}},
  {"data":{"name":"r2c3"},"transform":[{"fold":["H","L"],"as":["s","v"]}],"mark":"line","encoding":{"x":{"field":"t","type":"quantitative","scale":{"domain":[0,10],"range":[37,161]},"axis":{"values":[0,10],"title":"Time (s)","offset":-36,"labelPadding":7.5,"titlePadding":4}},"y":{"field":"v","type":"quantitative","scale":{"domain":[45,190],"range":[75,21]},"axis":null},"color":{"field":"s","type":"nominal","scale":{"domain":["H","L"],"range":["#e63c3c","#3c3ce0"]},"legend":{"title":null,"legendX":29,"legendY":3.5,"columnPadding":12,"labelExpr":"'Vpv_' + datum.label","labelColor":{"expr":"datum.value === 'L' ? '#3c3ce0' : '#e63c3c'"}}}}},
  {"data":{"values":[{}]},"mark":{"type":"rect","filled":false,"stroke":"#1a1a1a","strokeWidth":1.5},"encoding":{"x":{"datum":0,"type":"quantitative","scale":{"domain":[0,10],"range":[37,161]}},"x2":{"datum":10},"y":{"datum":45,"type":"quantitative","scale":{"domain":[45,190],"range":[75,21]},"axis":null},"y2":{"datum":190}}}
 ]},

 {"width":110,"height":113,"data":{"values":[{}]},"encoding":{"x":{"datum":0.5,"type":"quantitative","scale":{"domain":[0,1]},"axis":null},"y":{"datum":0.5,"type":"quantitative","scale":{"domain":[0,1]},"axis":null}},"layer":[
  {"mark":{"type":"text","fontSize":16,"align":"right","dx":1},"encoding":{"text":{"value":"P"}}},
  {"mark":{"type":"text","fontSize":9,"align":"left","dx":1,"dy":5},"encoding":{"text":{"value":"in"}}}
 ]},
 {"width":175,"height":113,"layer":[
  {"data":{"values":[{"g":0},{"g":20},{"g":40},{"g":60},{"g":80},{"g":100},{"g":120}]},"mark":"rule","encoding":{"y":{"field":"g","type":"quantitative","scale":{"domain":[-14,134],"range":[75,24]},"axis":null},"x":{"datum":0,"type":"quantitative","scale":{"domain":[0,10],"range":[37,161]}},"x2":{"datum":10}}},
  {"data":{"values":[{"g":2},{"g":4},{"g":6},{"g":8}]},"mark":"rule","encoding":{"x":{"field":"g","type":"quantitative","scale":{"domain":[0,10],"range":[37,161]}},"y":{"datum":-14,"type":"quantitative","scale":{"domain":[-14,134],"range":[75,24]},"axis":null},"y2":{"datum":134}}},
  {"data":{"values":[{"g":0,"lab":"0"},{"g":40,"lab":"40"},{"g":80,"lab":"80"},{"g":120,"lab":"120"}]},"mark":{"type":"text","align":"right","dx":-6,"font":"Liberation Sans","fontWeight":"normal","fontSize":9,"color":"#333333"},"encoding":{"x":{"datum":0,"type":"quantitative","scale":{"domain":[0,10],"range":[37,161]}},"y":{"field":"g","type":"quantitative","scale":{"domain":[-14,134],"range":[75,24]},"axis":null},"text":{"field":"lab"}}},
  {"data":{"name":"r3c1"},"transform":[{"fold":["H","L"],"as":["s","v"]}],"mark":"line","encoding":{"x":{"field":"t","type":"quantitative","scale":{"domain":[0,10],"range":[37,161]},"axis":{"values":[0,10],"title":"Time (s)","offset":-38,"labelPadding":7.5,"titlePadding":7}},"y":{"field":"v","type":"quantitative","scale":{"domain":[-14,134],"range":[75,24]},"axis":null},"color":{"field":"s","type":"nominal","scale":{"domain":["H","L"],"range":["#e63c3c","#3c3ce0"]},"legend":{"title":null,"legendX":22,"legendY":7.5,"columnPadding":20,"labelExpr":"'A_Power_' + datum.label","labelColor":{"expr":"datum.value === 'L' ? '#3c3ce0' : '#e63c3c'"}}}}},
  {"data":{"values":[{}]},"mark":{"type":"rect","filled":false,"stroke":"#1a1a1a","strokeWidth":1.5},"encoding":{"x":{"datum":0,"type":"quantitative","scale":{"domain":[0,10],"range":[37,161]}},"x2":{"datum":10},"y":{"datum":-14,"type":"quantitative","scale":{"domain":[-14,134],"range":[75,24]},"axis":null},"y2":{"datum":134}}}
 ]},
 {"width":185,"height":113,"layer":[
  {"data":{"values":[{"g":0},{"g":20},{"g":40},{"g":60},{"g":80},{"g":100},{"g":120}]},"mark":"rule","encoding":{"y":{"field":"g","type":"quantitative","scale":{"domain":[-14,134],"range":[75,24]},"axis":null},"x":{"datum":0,"type":"quantitative","scale":{"domain":[0,10],"range":[41,166]}},"x2":{"datum":10}}},
  {"data":{"values":[{"g":2},{"g":4},{"g":6},{"g":8}]},"mark":"rule","encoding":{"x":{"field":"g","type":"quantitative","scale":{"domain":[0,10],"range":[41,166]}},"y":{"datum":-14,"type":"quantitative","scale":{"domain":[-14,134],"range":[75,24]},"axis":null},"y2":{"datum":134}}},
  {"data":{"values":[{"g":0,"lab":"0"},{"g":40,"lab":"40"},{"g":80,"lab":"80"},{"g":120,"lab":"120"}]},"mark":{"type":"text","align":"right","dx":-6,"font":"Liberation Sans","fontWeight":"normal","fontSize":9,"color":"#333333"},"encoding":{"x":{"datum":0,"type":"quantitative","scale":{"domain":[0,10],"range":[41,166]}},"y":{"field":"g","type":"quantitative","scale":{"domain":[-14,134],"range":[75,24]},"axis":null},"text":{"field":"lab"}}},
  {"data":{"name":"r3c2"},"transform":[{"fold":["H","L"],"as":["s","v"]}],"mark":"line","encoding":{"x":{"field":"t","type":"quantitative","scale":{"domain":[0,10],"range":[41,166]},"axis":{"values":[0,10],"title":"Time (s)","offset":-38,"labelPadding":7.5,"titlePadding":7}},"y":{"field":"v","type":"quantitative","scale":{"domain":[-14,134],"range":[75,24]},"axis":null},"color":{"field":"s","type":"nominal","scale":{"domain":["H","L"],"range":["#e63c3c","#3c3ce0"]},"legend":{"title":null,"legendX":26,"legendY":7.5,"columnPadding":20,"labelExpr":"'A_Power_' + datum.label","labelColor":{"expr":"datum.value === 'L' ? '#3c3ce0' : '#e63c3c'"}}}}},
  {"data":{"values":[{}]},"mark":{"type":"rect","filled":false,"stroke":"#1a1a1a","strokeWidth":1.5},"encoding":{"x":{"datum":0,"type":"quantitative","scale":{"domain":[0,10],"range":[41,166]}},"x2":{"datum":10},"y":{"datum":-14,"type":"quantitative","scale":{"domain":[-14,134],"range":[75,24]},"axis":null},"y2":{"datum":134}}}
 ]},
 {"width":176,"height":113,"layer":[
  {"data":{"values":[{"g":0},{"g":20},{"g":40},{"g":60},{"g":80},{"g":100},{"g":120}]},"mark":"rule","encoding":{"y":{"field":"g","type":"quantitative","scale":{"domain":[-14,134],"range":[75,24]},"axis":null},"x":{"datum":0,"type":"quantitative","scale":{"domain":[0,10],"range":[37,161]}},"x2":{"datum":10}}},
  {"data":{"values":[{"g":2},{"g":4},{"g":6},{"g":8}]},"mark":"rule","encoding":{"x":{"field":"g","type":"quantitative","scale":{"domain":[0,10],"range":[37,161]}},"y":{"datum":-14,"type":"quantitative","scale":{"domain":[-14,134],"range":[75,24]},"axis":null},"y2":{"datum":134}}},
  {"data":{"values":[{"g":0,"lab":"0"},{"g":40,"lab":"40"},{"g":80,"lab":"80"},{"g":120,"lab":"120"}]},"mark":{"type":"text","align":"right","dx":-6,"font":"Liberation Sans","fontWeight":"normal","fontSize":9,"color":"#333333"},"encoding":{"x":{"datum":0,"type":"quantitative","scale":{"domain":[0,10],"range":[37,161]}},"y":{"field":"g","type":"quantitative","scale":{"domain":[-14,134],"range":[75,24]},"axis":null},"text":{"field":"lab"}}},
  {"data":{"name":"r3c1"},"transform":[{"fold":["H","L"],"as":["s","v"]}],"mark":"line","encoding":{"x":{"field":"t","type":"quantitative","scale":{"domain":[0,10],"range":[37,161]},"axis":{"values":[0,10],"title":"Time (s)","offset":-38,"labelPadding":7.5,"titlePadding":7}},"y":{"field":"v","type":"quantitative","scale":{"domain":[-14,134],"range":[75,24]},"axis":null},"color":{"field":"s","type":"nominal","scale":{"domain":["H","L"],"range":["#e63c3c","#3c3ce0"]},"legend":{"title":null,"legendX":23,"legendY":7.5,"columnPadding":20,"labelExpr":"'A_Power_' + datum.label","labelColor":{"expr":"datum.value === 'L' ? '#3c3ce0' : '#e63c3c'"}}}}},
  {"data":{"values":[{}]},"mark":{"type":"rect","filled":false,"stroke":"#1a1a1a","strokeWidth":1.5},"encoding":{"x":{"datum":0,"type":"quantitative","scale":{"domain":[0,10],"range":[37,161]}},"x2":{"datum":10},"y":{"datum":-14,"type":"quantitative","scale":{"domain":[-14,134],"range":[75,24]},"axis":null},"y2":{"datum":134}}}
 ]},

 {"width":110,"height":113,"data":{"values":[{}]},"encoding":{"x":{"datum":0.5,"type":"quantitative","scale":{"domain":[0,1]},"axis":null},"y":{"datum":0.5,"type":"quantitative","scale":{"domain":[0,1]},"axis":null}},"layer":[
  {"mark":{"type":"text","fontSize":15,"dy":-5},"encoding":{"text":{"value":"Efficiency"}}},
  {"mark":{"type":"text","fontSize":16,"fontStyle":"italic","align":"left","dx":-44,"dy":20},"encoding":{"text":{"value":"(P"}}},
  {"mark":{"type":"text","fontSize":11,"fontStyle":"italic","align":"left","dx":-29,"dy":24},"encoding":{"text":{"value":"load"}}},
  {"mark":{"type":"text","fontSize":16,"fontStyle":"italic","align":"left","dx":-5,"dy":20},"encoding":{"text":{"value":"÷ ΣP"}}},
  {"mark":{"type":"text","fontSize":11,"fontStyle":"italic","align":"left","dx":27,"dy":24},"encoding":{"text":{"value":"pv"}}},
  {"mark":{"type":"text","fontSize":16,"align":"left","dx":38,"dy":20},"encoding":{"text":{"value":")"}}}
 ]},
 {"width":175,"height":113,"layer":[
  {"data":{"values":[{"g":0,"lab":"0"},{"g":0.4,"lab":"0.4"},{"g":0.8,"lab":"0.8"}]},"mark":{"type":"text","align":"right","dx":-6,"font":"Liberation Sans","fontWeight":"normal","fontSize":9,"color":"#333333"},"encoding":{"x":{"datum":0,"type":"quantitative","scale":{"domain":[0,10],"range":[37,161]}},"y":{"field":"g","type":"quantitative","scale":{"domain":[-0.01,1.05],"range":[80,24]},"axis":null},"text":{"field":"lab"}}},
  {"data":{"name":"r4c1"},"mark":{"type":"line","strokeWidth":1.4},"encoding":{"x":{"field":"t","type":"quantitative","scale":{"domain":[0,10],"range":[37,161]},"axis":{"values":[0,10],"title":"Time (s)","offset":-33,"labelPadding":6.5,"titlePadding":5}},"y":{"field":"v","type":"quantitative","scale":{"domain":[-0.01,1.05],"range":[80,24]},"axis":null},"color":{"datum":"Efficiency","scale":{"range":["#e63c3c"]},"legend":{"title":null,"legendX":27,"legendY":7.5,"labelColor":"#e63c3c"}}}},
  {"data":{"values":[{"t":5,"v":0.39,"label":"Average Efficiency = 0.70"}]},"mark":{"type":"text","font":"Liberation Sans","fontWeight":"bold","fontSize":10,"color":"#e63c3c"},"encoding":{"x":{"field":"t","type":"quantitative","scale":{"domain":[0,10],"range":[37,161]}},"y":{"field":"v","type":"quantitative","scale":{"domain":[-0.01,1.05],"range":[80,24]},"axis":null},"text":{"field":"label"}}},
  {"data":{"values":[{}]},"mark":{"type":"rect","filled":false,"stroke":"#1a1a1a","strokeWidth":1.5},"encoding":{"x":{"datum":0,"type":"quantitative","scale":{"domain":[0,10],"range":[37,161]}},"x2":{"datum":10},"y":{"datum":-0.01,"type":"quantitative","scale":{"domain":[-0.01,1.05],"range":[80,24]},"axis":null},"y2":{"datum":1.05}}}
 ]},
 {"width":185,"height":113,"layer":[
  {"data":{"values":[{"g":0,"lab":"0"},{"g":0.4,"lab":"0.4"},{"g":0.8,"lab":"0.8"}]},"mark":{"type":"text","align":"right","dx":-6,"font":"Liberation Sans","fontWeight":"normal","fontSize":9,"color":"#333333"},"encoding":{"x":{"datum":0,"type":"quantitative","scale":{"domain":[0,10],"range":[41,166]}},"y":{"field":"g","type":"quantitative","scale":{"domain":[-0.01,1.05],"range":[80,24]},"axis":null},"text":{"field":"lab"}}},
  {"data":{"name":"r4c2"},"mark":{"type":"line","strokeWidth":1.4},"encoding":{"x":{"field":"t","type":"quantitative","scale":{"domain":[0,10],"range":[41,166]},"axis":{"values":[0,10],"title":"Time (s)","offset":-33,"labelPadding":6.5,"titlePadding":5}},"y":{"field":"v","type":"quantitative","scale":{"domain":[-0.01,1.05],"range":[80,24]},"axis":null},"color":{"datum":"Efficiency","scale":{"range":["#e63c3c"]},"legend":{"title":null,"legendX":31,"legendY":7.5,"labelColor":"#e63c3c"}}}},
  {"data":{"values":[{"t":5,"v":0.39,"label":"Average Efficiency = 0.69"}]},"mark":{"type":"text","font":"Liberation Sans","fontWeight":"bold","fontSize":10,"color":"#e63c3c"},"encoding":{"x":{"field":"t","type":"quantitative","scale":{"domain":[0,10],"range":[41,166]}},"y":{"field":"v","type":"quantitative","scale":{"domain":[-0.01,1.05],"range":[80,24]},"axis":null},"text":{"field":"label"}}},
  {"data":{"values":[{}]},"mark":{"type":"rect","filled":false,"stroke":"#1a1a1a","strokeWidth":1.5},"encoding":{"x":{"datum":0,"type":"quantitative","scale":{"domain":[0,10],"range":[41,166]}},"x2":{"datum":10},"y":{"datum":-0.01,"type":"quantitative","scale":{"domain":[-0.01,1.05],"range":[80,24]},"axis":null},"y2":{"datum":1.05}}}
 ]},
 {"width":176,"height":113,"layer":[
  {"data":{"values":[{"g":0,"lab":"0"},{"g":0.4,"lab":"0.4"},{"g":0.8,"lab":"0.8"}]},"mark":{"type":"text","align":"right","dx":-6,"font":"Liberation Sans","fontWeight":"normal","fontSize":9,"color":"#333333"},"encoding":{"x":{"datum":0,"type":"quantitative","scale":{"domain":[0,10],"range":[37,161]}},"y":{"field":"g","type":"quantitative","scale":{"domain":[-0.01,1.05],"range":[80,24]},"axis":null},"text":{"field":"lab"}}},
  {"data":{"name":"r4c1"},"mark":{"type":"line","strokeWidth":1.4},"encoding":{"x":{"field":"t","type":"quantitative","scale":{"domain":[0,10],"range":[37,161]},"axis":{"values":[0,10],"title":"Time (s)","offset":-33,"labelPadding":6.5,"titlePadding":5}},"y":{"field":"v","type":"quantitative","scale":{"domain":[-0.01,1.05],"range":[80,24]},"axis":null},"color":{"datum":"Efficiency","scale":{"range":["#e63c3c"]},"legend":{"title":null,"legendX":27,"legendY":7.5,"labelColor":"#e63c3c"}}}},
  {"data":{"values":[{"t":5,"v":0.39,"label":"Average Efficiency = 0.70"}]},"mark":{"type":"text","font":"Liberation Sans","fontWeight":"bold","fontSize":10,"color":"#e63c3c"},"encoding":{"x":{"field":"t","type":"quantitative","scale":{"domain":[0,10],"range":[37,161]}},"y":{"field":"v","type":"quantitative","scale":{"domain":[-0.01,1.05],"range":[80,24]},"axis":null},"text":{"field":"label"}}},
  {"data":{"values":[{}]},"mark":{"type":"rect","filled":false,"stroke":"#1a1a1a","strokeWidth":1.5},"encoding":{"x":{"datum":0,"type":"quantitative","scale":{"domain":[0,10],"range":[37,161]}},"x2":{"datum":10},"y":{"datum":-0.01,"type":"quantitative","scale":{"domain":[-0.01,1.05],"range":[80,24]},"axis":null},"y2":{"datum":1.05}}}
 ]},

 {"width":110,"height":115,"data":{"values":[{}]},"encoding":{"x":{"datum":0.5,"type":"quantitative","scale":{"domain":[0,1]},"axis":null},"y":{"datum":0.5,"type":"quantitative","scale":{"domain":[0,1]},"axis":null}},"layer":[
  {"mark":{"type":"text","fontSize":16,"align":"right","dx":-2},"encoding":{"text":{"value":"V"}}},
  {"mark":{"type":"text","fontSize":9,"align":"left","dx":-2,"dy":5},"encoding":{"text":{"value":"load"}}}
 ]},
 {"width":175,"height":115,"layer":[
  {"data":{"values":[{"g":-5},{"g":0},{"g":5},{"g":10},{"g":15}]},"mark":"rule","encoding":{"y":{"field":"g","type":"quantitative","scale":{"domain":[-7,18.3],"range":[79,25]},"axis":null},"x":{"datum":0,"type":"quantitative","scale":{"domain":[0,10],"range":[37,161]}},"x2":{"datum":10}}},
  {"data":{"values":[{"g":2},{"g":4},{"g":6},{"g":8}]},"mark":"rule","encoding":{"x":{"field":"g","type":"quantitative","scale":{"domain":[0,10],"range":[37,161]}},"y":{"datum":-7,"type":"quantitative","scale":{"domain":[-7,18.3],"range":[79,25]},"axis":null},"y2":{"datum":18.3}}},
  {"data":{"values":[{"g":-5,"lab":"-5"},{"g":0,"lab":"0"},{"g":5,"lab":"5"},{"g":10,"lab":"10"},{"g":15,"lab":"15"}]},"mark":{"type":"text","align":"right","dx":-6,"font":"Liberation Sans","fontWeight":"normal","fontSize":9,"color":"#333333"},"encoding":{"x":{"datum":0,"type":"quantitative","scale":{"domain":[0,10],"range":[37,161]}},"y":{"field":"g","type":"quantitative","scale":{"domain":[-7,18.3],"range":[79,25]},"axis":null},"text":{"field":"lab"}}},
  {"data":{"name":"r5c1"},"mark":{"type":"line","strokeWidth":1.4},"encoding":{"x":{"field":"t","type":"quantitative","scale":{"domain":[0,10],"range":[37,161]},"axis":{"values":[0,10],"title":"Time (s)","offset":-36,"labelPadding":9.5,"titlePadding":4}},"y":{"field":"v","type":"quantitative","scale":{"domain":[-7,18.3],"range":[79,25]},"axis":null},"color":{"datum":"Vs","scale":{"range":["#e63c3c"]},"legend":{"title":null,"legendX":28,"legendY":8.5,"labelColor":"#e63c3c"}}}},
  {"data":{"values":[{}]},"mark":{"type":"rect","filled":false,"stroke":"#1a1a1a","strokeWidth":1.5},"encoding":{"x":{"datum":0,"type":"quantitative","scale":{"domain":[0,10],"range":[37,161]}},"x2":{"datum":10},"y":{"datum":-7,"type":"quantitative","scale":{"domain":[-7,18.3],"range":[79,25]},"axis":null},"y2":{"datum":18.3}}}
 ]},
 {"width":185,"height":115,"layer":[
  {"data":{"values":[{"g":-2},{"g":0},{"g":2},{"g":4},{"g":6},{"g":8},{"g":10},{"g":12}]},"mark":"rule","encoding":{"y":{"field":"g","type":"quantitative","scale":{"domain":[-3.8,13.9],"range":[79,25]},"axis":null},"x":{"datum":0,"type":"quantitative","scale":{"domain":[0,10],"range":[41,166]}},"x2":{"datum":10}}},
  {"data":{"values":[{"g":2},{"g":4},{"g":6},{"g":8}]},"mark":"rule","encoding":{"x":{"field":"g","type":"quantitative","scale":{"domain":[0,10],"range":[41,166]}},"y":{"datum":-3.8,"type":"quantitative","scale":{"domain":[-3.8,13.9],"range":[79,25]},"axis":null},"y2":{"datum":13.9}}},
  {"data":{"values":[{"g":0,"lab":"0"},{"g":4,"lab":"4"},{"g":8,"lab":"8"},{"g":12,"lab":"12"}]},"mark":{"type":"text","align":"right","dx":-6,"font":"Liberation Sans","fontWeight":"normal","fontSize":9,"color":"#333333"},"encoding":{"x":{"datum":0,"type":"quantitative","scale":{"domain":[0,10],"range":[41,166]}},"y":{"field":"g","type":"quantitative","scale":{"domain":[-3.8,13.9],"range":[79,25]},"axis":null},"text":{"field":"lab"}}},
  {"data":{"name":"r5c2"},"mark":{"type":"line","strokeWidth":1.4},"encoding":{"x":{"field":"t","type":"quantitative","scale":{"domain":[0,10],"range":[41,166]},"axis":{"values":[0,10],"title":"Time (s)","offset":-36,"labelPadding":9.5,"titlePadding":4}},"y":{"field":"v","type":"quantitative","scale":{"domain":[-3.8,13.9],"range":[79,25]},"axis":null},"color":{"datum":"Vs","scale":{"range":["#e63c3c"]},"legend":{"title":null,"legendX":32,"legendY":8.5,"labelColor":"#e63c3c"}}}},
  {"data":{"values":[{}]},"mark":{"type":"rect","filled":false,"stroke":"#1a1a1a","strokeWidth":1.5},"encoding":{"x":{"datum":0,"type":"quantitative","scale":{"domain":[0,10],"range":[41,166]}},"x2":{"datum":10},"y":{"datum":-3.8,"type":"quantitative","scale":{"domain":[-3.8,13.9],"range":[79,25]},"axis":null},"y2":{"datum":13.9}}}
 ]},
 {"width":176,"height":115,"layer":[
  {"data":{"values":[{"g":-5},{"g":0},{"g":5},{"g":10},{"g":15}]},"mark":"rule","encoding":{"y":{"field":"g","type":"quantitative","scale":{"domain":[-7,18.3],"range":[79,25]},"axis":null},"x":{"datum":0,"type":"quantitative","scale":{"domain":[0,10],"range":[37,161]}},"x2":{"datum":10}}},
  {"data":{"values":[{"g":2},{"g":4},{"g":6},{"g":8}]},"mark":"rule","encoding":{"x":{"field":"g","type":"quantitative","scale":{"domain":[0,10],"range":[37,161]}},"y":{"datum":-7,"type":"quantitative","scale":{"domain":[-7,18.3],"range":[79,25]},"axis":null},"y2":{"datum":18.3}}},
  {"data":{"values":[{"g":-5,"lab":"-5"},{"g":0,"lab":"0"},{"g":5,"lab":"5"},{"g":10,"lab":"10"},{"g":15,"lab":"15"}]},"mark":{"type":"text","align":"right","dx":-6,"font":"Liberation Sans","fontWeight":"normal","fontSize":9,"color":"#333333"},"encoding":{"x":{"datum":0,"type":"quantitative","scale":{"domain":[0,10],"range":[37,161]}},"y":{"field":"g","type":"quantitative","scale":{"domain":[-7,18.3],"range":[79,25]},"axis":null},"text":{"field":"lab"}}},
  {"data":{"name":"r5c1"},"mark":{"type":"line","strokeWidth":1.4},"encoding":{"x":{"field":"t","type":"quantitative","scale":{"domain":[0,10],"range":[37,161]},"axis":{"values":[0,10],"title":"Time (s)","offset":-36,"labelPadding":9.5,"titlePadding":4}},"y":{"field":"v","type":"quantitative","scale":{"domain":[-7,18.3],"range":[79,25]},"axis":null},"color":{"datum":"Vs","scale":{"range":["#e63c3c"]},"legend":{"title":null,"legendX":28,"legendY":8.5,"labelColor":"#e63c3c"}}}},
  {"data":{"values":[{}]},"mark":{"type":"rect","filled":false,"stroke":"#1a1a1a","strokeWidth":1.5},"encoding":{"x":{"datum":0,"type":"quantitative","scale":{"domain":[0,10],"range":[37,161]}},"x2":{"datum":10},"y":{"datum":-7,"type":"quantitative","scale":{"domain":[-7,18.3],"range":[79,25]},"axis":null},"y2":{"datum":18.3}}}
 ]}
],"columns":4,"spacing":1,"bounds":"flush","align":"each","resolve":{"scale":{"color":"independent"},"legend":{"color":"independent"}}}
]
}
